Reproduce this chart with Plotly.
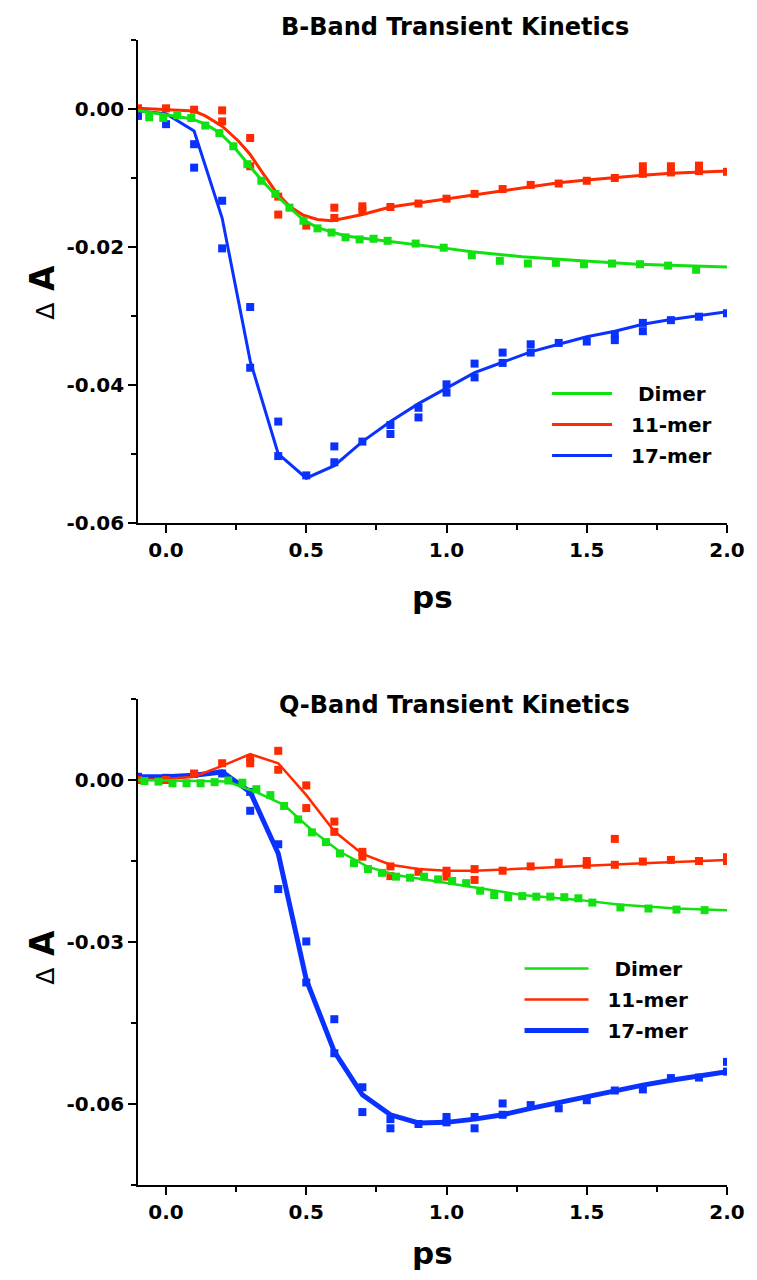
import plotly.graph_objects as go

# ---------------- data: B-band (top panel) ----------------
b_dimer_x = [-0.06, -0.01, 0.04, 0.09, 0.14, 0.19, 0.24, 0.29, 0.34, 0.39, 0.44, 0.49, 0.54, 0.59,
             0.64, 0.69, 0.74, 0.79, 0.89, 0.99, 1.09, 1.19, 1.29, 1.39, 1.49, 1.59, 1.69, 1.79, 1.89]
b_dimer_y = [-0.0012, -0.0013, -0.0009, -0.0013, -0.0024, -0.0035, -0.0054, -0.0080, -0.0104, -0.0123,
             -0.0143, -0.0162, -0.0173, -0.0179, -0.0186, -0.0189, -0.0188, -0.0191, -0.0195, -0.0201,
             -0.0212, -0.0220, -0.0224, -0.0223, -0.0225, -0.0224, -0.0225, -0.0227, -0.0233]
b_dimer_fit_x = [-0.1, -0.01, 0.09, 0.14, 0.19, 0.24, 0.29, 0.34, 0.39, 0.44, 0.49, 0.54, 0.59, 0.64,
                 0.74, 0.89, 1.0, 1.09, 1.27, 1.48, 1.68, 2.0]
b_dimer_fit_y = [-0.0002, -0.0008, -0.0014, -0.0022, -0.0034, -0.0054, -0.0079, -0.0103, -0.0124, -0.0143,
                 -0.0161, -0.0172, -0.0178, -0.0184, -0.0189, -0.0196, -0.0202, -0.0207, -0.0214, -0.0220,
                 -0.0225, -0.0229]

b_11_x = [-0.1, 0.0, 0.1, 0.2, 0.2, 0.3, 0.3, 0.4, 0.4, 0.5, 0.6, 0.6, 0.7, 0.7, 0.8, 0.9, 1.0, 1.1,
          1.2, 1.3, 1.4, 1.5, 1.6, 1.7, 1.7, 1.8, 1.8, 1.9, 1.9, 2.0]
b_11_y = [0.0001, 0.0001, -0.0001, -0.0002, -0.0018, -0.0042, -0.0083, -0.0127, -0.0153, -0.0169,
          -0.0143, -0.0158, -0.0141, -0.0148, -0.0142, -0.0137, -0.0130, -0.0123, -0.0116, -0.0110,
          -0.0108, -0.0104, -0.0100, -0.0083, -0.0094, -0.0083, -0.0092, -0.0082, -0.0090, -0.0091]
b_11_fit_x = [-0.1, 0.0, 0.1, 0.14, 0.2, 0.257, 0.3, 0.34, 0.39, 0.44, 0.49, 0.54, 0.59, 0.64, 0.7,
              0.8, 0.9, 1.0, 1.1, 1.2, 1.3, 1.4, 1.5, 1.6, 1.7, 1.8, 1.9, 2.0]
b_11_fit_y = [0.0001, -0.0001, -0.0003, -0.0010, -0.0025, -0.0046, -0.0066, -0.0090, -0.0119, -0.0141,
              -0.0154, -0.0160, -0.0162, -0.0158, -0.0153, -0.0142, -0.0136, -0.0131, -0.0124, -0.0118,
              -0.0112, -0.0107, -0.0103, -0.0099, -0.0096, -0.0093, -0.0091, -0.0090]

b_17_x = [-0.1, 0.0, 0.1, 0.1, 0.2, 0.2, 0.3, 0.3, 0.4, 0.4, 0.5, 0.6, 0.6, 0.7, 0.8, 0.8, 0.9, 0.9,
          1.0, 1.0, 1.1, 1.1, 1.2, 1.2, 1.3, 1.3, 1.4, 1.5, 1.6, 1.6, 1.7, 1.7, 1.8, 1.9, 2.0]
b_17_y = [-0.0010, -0.0022, -0.0051, -0.0085, -0.0133, -0.0202, -0.0287, -0.0375, -0.0453, -0.0503,
          -0.0531, -0.0489, -0.0512, -0.0482, -0.0458, -0.0471, -0.0433, -0.0447, -0.0399, -0.0411,
          -0.0369, -0.0389, -0.0353, -0.0368, -0.0341, -0.0353, -0.0339, -0.0337, -0.0327, -0.0335,
          -0.0310, -0.0322, -0.0306, -0.0301, -0.0296]
b_17_fit_x = [-0.1, 0.0, 0.1, 0.2, 0.3, 0.4, 0.5, 0.6, 0.7, 0.8, 0.9, 1.0, 1.1, 1.2, 1.3, 1.4, 1.5,
              1.6, 1.7, 1.8, 1.9, 2.0]
b_17_fit_y = [-0.0003, -0.0007, -0.0032, -0.0158, -0.0365, -0.0500, -0.0535, -0.0517, -0.0482, -0.0453,
              -0.0427, -0.0405, -0.0382, -0.0367, -0.0352, -0.0341, -0.0330, -0.0322, -0.0312, -0.0305,
              -0.0300, -0.0294]

# ---------------- data: Q-band (bottom panel) ----------------
q_dimer_x = [-0.077, -0.027, 0.023, 0.073, 0.123, 0.173, 0.222, 0.272, 0.322, 0.372, 0.421, 0.471, 0.52,
             0.57, 0.62, 0.67, 0.72, 0.77, 0.82, 0.87, 0.92, 0.97, 1.02, 1.07, 1.12, 1.17, 1.22, 1.27,
             1.32, 1.37, 1.42, 1.47, 1.52, 1.62, 1.72, 1.82, 1.92]
q_dimer_y = [-0.0002, -0.0003, -0.0006, -0.0006, -0.0006, -0.0004, -0.0001, -0.0005, -0.0017, -0.0028,
             -0.0048, -0.0073, -0.0097, -0.0115, -0.0136, -0.0154, -0.0165, -0.0172, -0.0179, -0.0181,
             -0.0179, -0.0184, -0.0187, -0.0191, -0.0205, -0.0213, -0.0217, -0.0215, -0.0216, -0.0216,
             -0.0217, -0.0219, -0.0227, -0.0236, -0.0238, -0.0240, -0.0241]
q_dimer_fit_x = [-0.1, 0.22, 0.27, 0.32, 0.42, 0.52, 0.62, 0.72, 0.82, 0.97, 1.12, 1.27, 1.47, 1.62,
                 1.82, 2.0]
q_dimer_fit_y = [0.0, -0.0003, -0.0013, -0.0022, -0.0046, -0.0093, -0.0133, -0.0161, -0.0176, -0.0188,
                 -0.0201, -0.0213, -0.0222, -0.0231, -0.0238, -0.0241]

q_11_x = [-0.1, 0.0, 0.1, 0.2, 0.3, 0.3, 0.4, 0.4, 0.5, 0.5, 0.6, 0.6, 0.7, 0.7, 0.8, 0.8, 0.9, 1.0,
          1.0, 1.1, 1.1, 1.2, 1.3, 1.4, 1.5, 1.5, 1.6, 1.6, 1.7, 1.8, 1.9, 2.0, 2.0]
q_11_y = [0.0, 0.0, 0.0012, 0.0031, 0.0040, 0.0031, 0.0054, 0.0019, -0.0010, -0.0052, -0.0077,
          -0.0096, -0.0133, -0.0142, -0.0160, -0.0178, -0.0170, -0.0168, -0.0179, -0.0165, -0.0185,
          -0.0168, -0.0160, -0.0153, -0.0150, -0.0157, -0.0109, -0.0157, -0.0151, -0.0148, -0.0150,
          -0.0143, -0.0150]
q_11_fit_x = [-0.1, 0.0, 0.1, 0.2, 0.3, 0.4, 0.5, 0.6, 0.7, 0.8, 0.9, 1.0, 1.1, 1.3, 1.5, 1.7, 2.0]
q_11_fit_y = [0.0, 0.0002, 0.0006, 0.0026, 0.0048, 0.0031, -0.0028, -0.0095, -0.0137, -0.0157, -0.0165,
              -0.0168, -0.0168, -0.0164, -0.0159, -0.0154, -0.0148]

q_17_x = [-0.1, 0.0, 0.1, 0.2, 0.3, 0.3, 0.4, 0.4, 0.5, 0.5, 0.6, 0.6, 0.7, 0.7, 0.8, 0.8, 0.9, 1.0,
          1.0, 1.1, 1.1, 1.2, 1.2, 1.3, 1.4, 1.5, 1.6, 1.7, 1.8, 1.9, 2.0, 2.0]
q_17_y = [0.0006, 0.0004, 0.0011, 0.0012, -0.0022, -0.0057, -0.0119, -0.0202, -0.0299, -0.0375,
          -0.0443, -0.0506, -0.0569, -0.0615, -0.0628, -0.0645, -0.0637, -0.0624, -0.0634, -0.0624,
          -0.0645, -0.0599, -0.0620, -0.0602, -0.0608, -0.0593, -0.0575, -0.0573, -0.0552, -0.0551,
          -0.0522, -0.0540]
q_17_fit_x = [-0.1, 0.0, 0.1, 0.2, 0.3, 0.4, 0.5, 0.6, 0.7, 0.8, 0.9, 1.0, 1.1, 1.2, 1.3, 1.4, 1.5,
              1.6, 1.7, 1.8, 1.9, 2.0]
q_17_fit_y = [0.0006, 0.0006, 0.0009, 0.0015, -0.0022, -0.0136, -0.0370, -0.0503, -0.0583, -0.0620,
              -0.0635, -0.0634, -0.0628, -0.0620, -0.0608, -0.0597, -0.0586, -0.0576, -0.0565, -0.0556,
              -0.0548, -0.0540]

# ---------------- labels / ticks ----------------
series_names = ["&nbsp;&nbsp;&nbsp;Dimer", "&nbsp;&nbsp;11-mer", "&nbsp;&nbsp;17-mer"]
x_tickvals = [0.0, 0.5, 1.0, 1.5, 2.0]
x_ticktext = ["0.0", "0.5", "1.0", "1.5", "2.0"]
x_minor = [0.25, 0.75, 1.25, 1.75]
b_y_tickvals = [0.0, -0.02, -0.04, -0.06]
b_y_ticktext = ["0.00", "-0.02", "-0.04", "-0.06"]
b_y_minor = [0.01, -0.01, -0.03, -0.05]
q_y_tickvals = [0.0, -0.03, -0.06]
q_y_ticktext = ["0.00", "-0.03", "-0.06"]
q_y_minor = [0.015, -0.015, -0.045, -0.075]
titles = ["B-Band Transient Kinetics", "Q-Band Transient Kinetics"]

GREEN = "#11E011"
RED = "#FF2A00"
BLUE = "#0A32FF"
FONT = "DejaVu Sans"

fig = go.Figure()


def add_panel(xa, ya, leg, fits, pts, widths):
    colors = [GREEN, RED, BLUE]
    for i in [2, 1, 0]:
        fx, fy = fits[i]
        pxs, pys = pts[i]
        fig.add_trace(go.Scatter(x=fx, y=fy, mode="lines", name=series_names[i],
                                 line=dict(color=colors[i], width=widths[i]),
                                 xaxis=xa, yaxis=ya, legend=leg, legendrank=i + 1,
                                 legendgroup=leg + str(i), showlegend=True))
        fig.add_trace(go.Scatter(x=pxs, y=pys, mode="markers",
                                 marker=dict(symbol="square", size=8, color=colors[i], line=dict(width=0)),
                                 xaxis=xa, yaxis=ya, showlegend=False, legendgroup=leg + str(i)))


add_panel("x", "y", "legend",
          [(b_dimer_fit_x, b_dimer_fit_y), (b_11_fit_x, b_11_fit_y), (b_17_fit_x, b_17_fit_y)],
          [(b_dimer_x, b_dimer_y), (b_11_x, b_11_y), (b_17_x, b_17_y)],
          [3, 3, 3])
add_panel("x2", "y2", "legend2",
          [(q_dimer_fit_x, q_dimer_fit_y), (q_11_fit_x, q_11_fit_y), (q_17_fit_x, q_17_fit_y)],
          [(q_dimer_x, q_dimer_y), (q_11_x, q_11_y), (q_17_x, q_17_y)],
          [2.5, 2.5, 5])

tickfont = dict(family=FONT, size=20, color="black", weight="bold")
common_axis = dict(showline=True, linecolor="black", linewidth=1.6, ticks="outside", ticklen=8,
                   tickwidth=1.6, tickcolor="black", showgrid=False, zeroline=False,
                   tickfont=tickfont)

# page offset (default body margin) so the figure fills the 757x1280 window
OFF = 8
W, H = 757 - OFF, 1280 - OFF
L, R, T, B = 138 - OFF, 20, 40 - OFF, 95
plot_h = H - T - B
plot_w = W - L - R


def py(pix):
    return (H - B - (pix - OFF)) / plot_h


def px(pix):
    return (pix - OFF - L) / plot_w


minor_style = dict(ticks="outside", ticklen=5, tickwidth=1.6, tickcolor="black")

fig.update_layout(
    width=W, height=H, margin=dict(l=L, r=R, t=T, b=B),
    paper_bgcolor="white", plot_bgcolor="white",
    xaxis=dict(domain=[0, 1], anchor="y", range=[-0.1, 2.0], tickvals=x_tickvals, ticktext=x_ticktext,
               minor=dict(tickvals=x_minor, **minor_style), **common_axis),
    yaxis=dict(domain=[py(523), 1], anchor="x", range=[-0.06, 0.01], tickvals=b_y_tickvals,
               ticktext=b_y_ticktext, minor=dict(tickvals=b_y_minor, **minor_style), **common_axis),
    xaxis2=dict(domain=[0, 1], anchor="y2", range=[-0.1, 2.0], tickvals=x_tickvals, ticktext=x_ticktext,
                minor=dict(tickvals=x_minor, **minor_style), **common_axis),
    yaxis2=dict(domain=[0, py(699)], anchor="x2", range=[-0.075, 0.015], tickvals=q_y_tickvals,
                ticktext=q_y_ticktext, minor=dict(tickvals=q_y_minor, **minor_style), **common_axis),
    legend=dict(x=px(554), y=py(374), xanchor="left", yanchor="top", bgcolor="rgba(0,0,0,0)",
                font=dict(family=FONT, size=20, color="black", weight="bold"),
                traceorder="grouped", tracegroupgap=2, itemwidth=60),
    legend2=dict(x=px(526), y=py(949), xanchor="left", yanchor="top", bgcolor="rgba(0,0,0,0)",
                 font=dict(family=FONT, size=20, color="black", weight="bold"),
                 traceorder="grouped", tracegroupgap=2, itemwidth=64),
    showlegend=True,
)

ann_font = dict(family=FONT, color="black", weight="bold")
fig.add_annotation(text=titles[0], xref="paper", yref="paper", x=px(460), y=py(27),
                   showarrow=False, xanchor="center", yanchor="middle", font=dict(size=24, **ann_font))
fig.add_annotation(text=titles[1], xref="paper", yref="paper", x=px(460), y=py(705),
                   showarrow=False, xanchor="center", yanchor="middle", font=dict(size=24, **ann_font))
for ycen in (597, 1253):
    fig.add_annotation(text="ps", xref="paper", yref="paper", x=px(438), y=py(ycen),
                       showarrow=False, xanchor="center", yanchor="middle", font=dict(size=31, **ann_font))
for ycen in (292, 957):
    fig.add_annotation(text="<span style='font-weight:normal;font-size:25px'>\u0394</span> A",
                       xref="paper", yref="paper", x=px(40), y=py(ycen), textangle=-90,
                       showarrow=False, xanchor="center", yanchor="middle", font=dict(size=33, **ann_font))

fig.write_html("out.html")
